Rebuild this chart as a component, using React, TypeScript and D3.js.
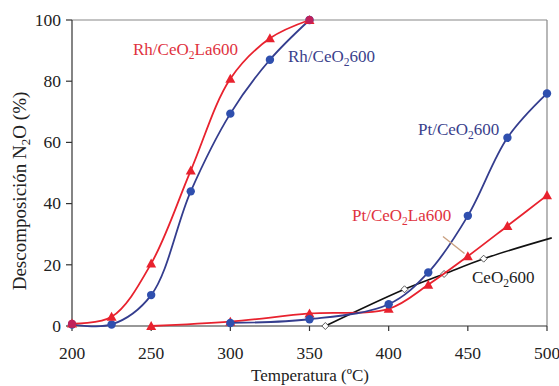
import React from "react";
import * as d3 from "d3";

const rhLaT = [200, 225, 250, 275, 300, 325, 350];
const rhLaV = [0.8, 3, 20.4, 50.8, 80.8, 94, 100];
const rhT = [200, 225, 250, 275, 300, 325, 350];
const rhV = [0.5, 0.5, 10.1, 44, 69.4, 87, 100];
const ptT = [300, 350, 400, 425, 450, 475, 500];
const ptV = [1.0, 2.2, 7.1, 17.5, 36, 61.5, 76];
const ptLaT = [250, 300, 350, 400, 425, 450, 475, 500];
const ptLaV = [0, 1.4, 4.1, 5.6, 13.5, 22.8, 32.7, 42.7];
const ceT = [360, 410, 435, 460, 503];
const ceV = [0, 12, 17, 22, 28.8];

const xTicks = [200, 250, 300, 350, 400, 450, 500];
const yTicks = [0, 20, 40, 60, 80, 100];

const RED = "#e8222e";
const BLUE_LINE = "#343d8e";
const BLUE_MK = "#2f4fae";
const BLUE_TXT = "#3a3f8c";
const RED_TXT = "#e0323e";
const FONT = '"Liberation Serif"';

export default function App() {
  const W = 559, H = 386;
  const x = d3.scaleLinear().domain([200, 500]).range([72, 547]);
  const y = d3.scaleLinear().domain([0, 100]).range([326, 20]);
  const line = d3
    .line<[number, number]>()
    .x((d) => x(d[0]))
    .y((d) => y(d[1]))
    .curve(d3.curveCatmullRom.alpha(0.5));
  const pts = (t: number[], v: number[]) => t.map((d, i) => [d, v[i]] as [number, number]);

  const tri = (cx: number, cy: number, s = 5) =>
    `M${cx},${cy - s}L${cx + s},${cy + s * 0.8}L${cx - s},${cy + s * 0.8}Z`;
  const diamond = (cx: number, cy: number, s = 3.5) =>
    `M${cx},${cy - s}L${cx + s},${cy}L${cx},${cy + s}L${cx - s},${cy}Z`;

  const tStyle = (fs: number) => ({ fontFamily: FONT, fontSize: fs + "px" });

  const sub = (pre: string, post: string, fill: string, xx: number, yy: number, fs = 17) => (
    <text x={xx} y={yy} fill={fill} style={tStyle(fs)}>
      {pre}
      <tspan style={{ fontSize: fs * 0.68 + "px" }} dy={4}>2</tspan>
      <tspan dy={-4}>{post}</tspan>
    </text>
  );

  return (
    <svg width={W} height={H} style={{ position: "absolute", left: 0, top: 0, background: "#fff" }}>
      <rect width={W} height={H} fill="#fff" />
      {/* frame */}
      <line x1={x(200)} x2={x(500)} y1={y(100)} y2={y(100)} stroke="#888" strokeWidth={1.2} />
      <line x1={x(500)} x2={x(500)} y1={y(100)} y2={y(0)} stroke="#888" strokeWidth={1.2} />
      <line x1={x(200)} x2={x(200)} y1={y(100)} y2={y(0)} stroke="#333" strokeWidth={1.2} />
      <line x1={x(200)} x2={x(500)} y1={y(0)} y2={y(0)} stroke="#333" strokeWidth={1.2} />
      {yTicks.map((t) => (
        <g key={"y" + t}>
          <line x1={x(200) - 6} x2={x(200)} y1={y(t)} y2={y(t)} stroke="#333" strokeWidth={1.2} />
          <text x={61} y={y(t) + 5.8} textAnchor="end" style={tStyle(17.5)} fill="#222">
            {t}
          </text>
        </g>
      ))}
      {xTicks.map((t) => (
        <g key={"x" + t}>
          <line x1={x(t)} x2={x(t)} y1={y(0)} y2={y(0) + 5} stroke="#333" strokeWidth={1.2} />
          <text x={x(t)} y={359} textAnchor="middle" style={tStyle(17.5)} fill="#222">
            {t}
          </text>
        </g>
      ))}
      <text x={310} y={381} textAnchor="middle" style={tStyle(17)} fill="#222">
        Temperatura (ºC)
      </text>
      <text
        transform={`translate(26,${191}) rotate(-90)`}
        textAnchor="middle"
        style={tStyle(19)}
        fill="#222"
      >
        Descomposición N<tspan style={{ fontSize: "13px" }} dy={4}>2</tspan>
        <tspan dy={-4}>O (%)</tspan>
      </text>

      {/* CeO2 */}
      <path d={line(pts(ceT, ceV)) || ""} fill="none" stroke="#111" strokeWidth={1.6} />
      {pts(ceT, ceV)
        .filter((d) => d[0] <= 500)
        .map((d, i) => (
          <path key={"c" + i} d={diamond(x(d[0]), y(d[1]))} fill="#fff" stroke="#333" strokeWidth={0.8} />
        ))}

      {/* Pt/CeO2La600 */}
      <path d={line(pts(ptLaT, ptLaV)) || ""} fill="none" stroke={RED} strokeWidth={1.8} />
      {pts(ptLaT, ptLaV).map((d, i) => (
        <path key={"pl" + i} d={tri(x(d[0]), y(d[1]))} fill={RED} />
      ))}
      {/* Pt/CeO2600 */}
      <path d={line(pts(ptT, ptV)) || ""} fill="none" stroke={BLUE_LINE} strokeWidth={1.8} />
      {pts(ptT, ptV).map((d, i) => (
        <circle key={"p" + i} cx={x(d[0])} cy={y(d[1])} r={4.2} fill={BLUE_MK} />
      ))}

      {/* Rh/CeO2600 */}
      <path d={line(pts(rhT, rhV)) || ""} fill="none" stroke={BLUE_LINE} strokeWidth={1.8} />
      {pts(rhT, rhV).map((d, i) => (
        <circle key={"r" + i} cx={x(d[0])} cy={y(d[1])} r={4.2} fill={BLUE_MK} />
      ))}
      {/* Rh/CeO2La600 */}
      <path d={line(pts(rhLaT, rhLaV)) || ""} fill="none" stroke={RED} strokeWidth={1.8} />
      {pts(rhLaT, rhLaV).map((d, i) => (
        <path key={"rl" + i} d={tri(x(d[0]), y(d[1]))} fill={RED} />
      ))}
      <circle cx={x(350)} cy={y(100)} r={4} fill="#c0205a" />
      <circle cx={x(200)} cy={y(0.7)} r={4} fill="#c0205a" />

      {/* leader line */}
      <line x1={443} y1={236.5} x2={464.5} y2={253.5} stroke="#c9a080" strokeWidth={1.4} />

      {sub("Rh/CeO", "La600", RED_TXT, 133, 55)}
      {sub("Rh/CeO", "600", BLUE_TXT, 288, 62)}
      {sub("Pt/CeO", "600", BLUE_TXT, 418, 135)}
      {sub("Pt/CeO", "La600", RED_TXT, 352, 221)}
      {sub("CeO", "600", "#222", 472, 283)}
    </svg>
  );
}
